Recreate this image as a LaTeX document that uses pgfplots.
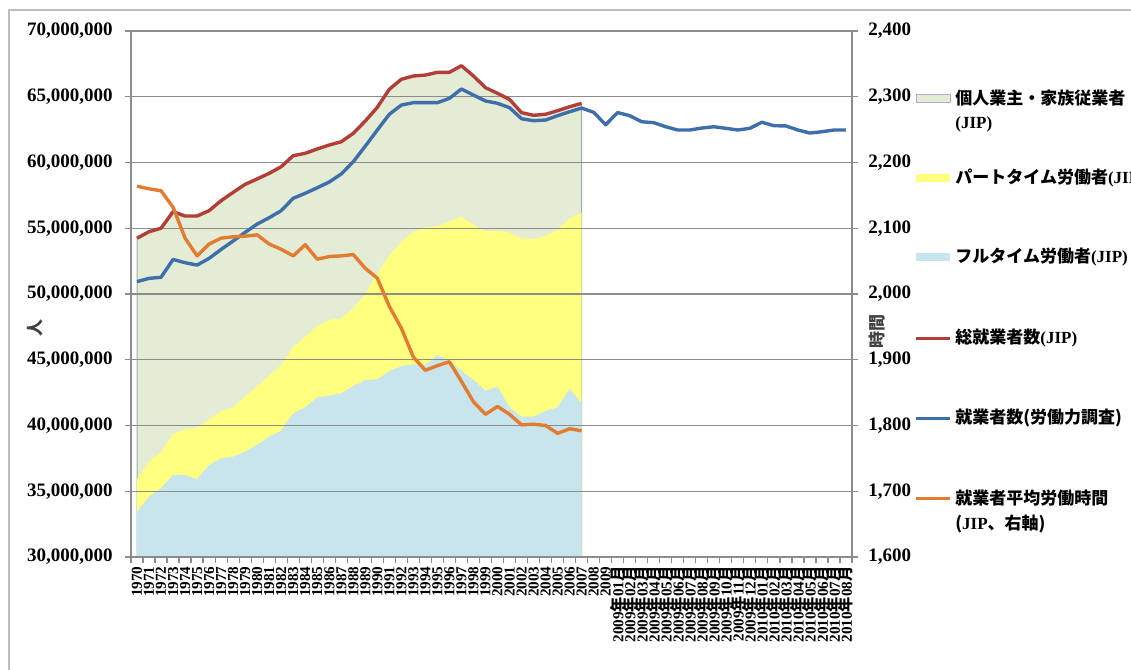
\documentclass[border=0pt]{standalone}
\usepackage{pgfplots}
\pgfplotsset{compat=1.18}
\usepackage{fontspec}
\setmainfont{Liberation Serif}
\newfontfamily\jp{Noto Sans CJK JP}

\definecolor{areagreen}{RGB}{228,236,214}
\definecolor{areayellow}{RGB}{255,255,128}
\definecolor{areablue}{RGB}{200,228,236}
\definecolor{greenedge}{RGB}{150,175,165}
\definecolor{redline}{RGB}{179,62,56}
\definecolor{blueline}{RGB}{63,111,170}
\definecolor{orangeline}{RGB}{226,124,48}
\definecolor{gridgray}{RGB}{140,140,140}
\definecolor{framegray}{RGB}{190,190,190}

\newcommand\ym[2]{#1{\jp 年}#2{\jp 月}}
\newcommand\jip[1]{{\rmfamily\bfseries(#1)}}

\pgfplotsset{
  base/.style={
    scale only axis, width=360.5pt, height=263pt,
    at={(65.5pt,-278.5pt)}, anchor=south west,
    xmin=-0.5, xmax=59.5,
  },
  ticknum/.style={
    /pgf/number format/fixed, /pgf/number format/precision=0,
    /pgf/number format/1000 sep={,}, /pgf/number format/assume math mode=true,
  },
}

\begin{document}
\begin{tikzpicture}
\useasboundingbox (0,0) rectangle (565.5pt,-335pt);
\draw[framegray, line width=0.9pt] (4.5pt,-335pt) -- (4.5pt,-5pt) -- (566pt,-5pt);

% areas, grid, x axis and left axis
\begin{axis}[base,
  ymin=30000000, ymax=70000000,
  ytick={30000000,35000000,40000000,45000000,50000000,55000000,60000000,65000000,70000000},
  scaled y ticks=false,
  ticknum,
  yticklabel style={font=\fontsize{9.5}{10}\selectfont\bfseries, inner sep=0pt},
  yticklabel shift=6pt,
  axis x line*=bottom, axis y line*=left,
  axis line style={draw=gridgray, line width=0.8pt, -},
  ymajorgrids, major grid style={draw=gridgray, line width=0.6pt},
  tick align=outside,
  major tick length=3pt, minor tick length=3pt,
  tick style={draw=gridgray, line width=0.6pt},
  xtick={0,...,59}, major x tick style={draw=none},
  minor xtick={-0.5,0.5,...,59.5},
  xticklabels={1970,1971,1972,1973,1974,1975,1976,1977,1978,1979,
    1980,1981,1982,1983,1984,1985,1986,1987,1988,1989,
    1990,1991,1992,1993,1994,1995,1996,1997,1998,1999,
    2000,2001,2002,2003,2004,2005,2006,2007,2008,2009,
    {\ym{2009}{01}},{\ym{2009}{02}},{\ym{2009}{03}},{\ym{2009}{04}},
    {\ym{2009}{05}},{\ym{2009}{06}},{\ym{2009}{07}},{\ym{2009}{08}},
    {\ym{2009}{09}},{\ym{2009}{10}},{\ym{2009}{11}},{\ym{2009}{12}},
    {\ym{2010}{01}},{\ym{2010}{02}},{\ym{2010}{03}},{\ym{2010}{04}},
    {\ym{2010}{05}},{\ym{2010}{06}},{\ym{2010}{07}},{\ym{2010}{08}}},
  xticklabel style={rotate=90, anchor=east, inner sep=0pt,
    font=\fontsize{7.6}{8}\selectfont\bfseries},
  xticklabel shift=1.5pt,
  axis on top,
]
% self-employed + family workers (top of stack = total JIP)
\addplot[fill=areagreen, draw=greenedge, line width=0.5pt] coordinates {
(0,54240000)(1,54740000)(2,55000000)(3,56260000)(4,55930000)(5,55930000)(6,56340000)(7,57100000)(8,57730000)(9,58340000)
(10,58750000)(11,59180000)(12,59680000)(13,60520000)(14,60700000)(15,61030000)(16,61330000)(17,61580000)(18,62220000)(19,63160000)
(20,64200000)(21,65570000)(22,66330000)(23,66580000)(24,66650000)(25,66860000)(26,66860000)(27,67360000)(28,66580000)(29,65690000)
(30,65260000)(31,64800000)(32,63790000)(33,63590000)(34,63670000)(35,63940000)(36,64240000)(37,64500000)
} \closedcycle;
% part-time (top of stack)
\addplot[fill=areayellow, draw=none] coordinates {
(0,35930000)(1,37250000)(2,38010000)(3,39350000)(4,39710000)(5,39830000)(6,40470000)(7,41100000)(8,41380000)(9,42190000)
(10,43000000)(11,43790000)(12,44600000)(13,45990000)(14,46750000)(15,47570000)(16,48020000)(17,48150000)(18,48910000)(19,49980000)
(20,51570000)(21,52970000)(22,53980000)(23,54740000)(24,55070000)(25,55170000)(26,55500000)(27,55880000)(28,55250000)(29,54790000)
(30,54810000)(31,54690000)(32,54240000)(33,54180000)(34,54410000)(35,54870000)(36,55760000)(37,56180000)
} \closedcycle;
% full-time
\addplot[fill=areablue, draw=none] coordinates {
(0,33440000)(1,34590000)(2,35220000)(3,36240000)(4,36240000)(5,35910000)(6,37000000)(7,37500000)(8,37630000)(9,38010000)
(10,38520000)(11,39150000)(12,39600000)(13,40930000)(14,41380000)(15,42140000)(16,42270000)(17,42450000)(18,43000000)(19,43460000)
(20,43510000)(21,44140000)(22,44520000)(23,44650000)(24,44600000)(25,45360000)(26,44900000)(27,44170000)(28,43460000)(29,42650000)
(30,42950000)(31,41380000)(32,40670000)(33,40670000)(34,41100000)(35,41380000)(36,42780000)(37,41690000)
} \closedcycle;
\end{axis}

% lines on the left scale
\begin{axis}[base, hide axis, ymin=30000000, ymax=70000000]
\addplot[redline, line width=1.7pt, line join=round] coordinates {
(0,54240000)(1,54740000)(2,55000000)(3,56260000)(4,55930000)(5,55930000)(6,56340000)(7,57100000)(8,57730000)(9,58340000)
(10,58750000)(11,59180000)(12,59680000)(13,60520000)(14,60700000)(15,61030000)(16,61330000)(17,61580000)(18,62220000)(19,63160000)
(20,64200000)(21,65570000)(22,66330000)(23,66580000)(24,66650000)(25,66860000)(26,66860000)(27,67360000)(28,66580000)(29,65690000)
(30,65260000)(31,64800000)(32,63790000)(33,63590000)(34,63670000)(35,63940000)(36,64240000)(37,64500000)
};
\addplot[blueline, line width=1.7pt, line join=round] coordinates {
(0,50940000)(1,51190000)(2,51270000)(3,52630000)(4,52380000)(5,52200000)(6,52710000)(7,53390000)(8,54030000)(9,54690000)
(10,55320000)(11,55800000)(12,56340000)(13,57280000)(14,57660000)(15,58080000)(16,58520000)(17,59130000)(18,60060000)(19,61250000)
(20,62470000)(21,63670000)(22,64370000)(23,64550000)(24,64550000)(25,64550000)(26,64880000)(27,65590000)(28,65130000)(29,64680000)
(30,64500000)(31,64170000)(32,63330000)(33,63180000)(34,63230000)(35,63560000)(36,63860000)(37,64140000)(38,63820000)(39,62870000)
(40,63800000)(41,63560000)(42,63100000)(43,63030000)(44,62720000)(45,62470000)(46,62470000)(47,62620000)(48,62720000)(49,62600000)
(50,62470000)(51,62600000)(52,63060000)(53,62800000)(54,62780000)(55,62470000)(56,62240000)(57,62340000)(58,62470000)(59,62470000)
};
\end{axis}

% average hours, right scale
\begin{axis}[base,
  ymin=1600, ymax=2400,
  axis y line*=right, axis x line=none,
  ytick={1600,1700,1800,1900,2000,2100,2200,2300,2400},
  ticknum,
  yticklabel style={font=\fontsize{9.5}{10}\selectfont\bfseries, inner sep=0pt},
  yticklabel shift=5pt,
  axis line style={draw=gridgray, line width=0.8pt, -},
  tick align=outside, major tick length=3pt,
  tick style={draw=gridgray, line width=0.6pt},
]
\addplot[orangeline, line width=1.7pt, line join=round] coordinates {
(0,2164)(1,2160)(2,2157)(3,2132)(4,2085)(5,2058)(6,2076)(7,2085)(8,2087)(9,2088)
(10,2090)(11,2076)(12,2068)(13,2058)(14,2075)(15,2053)(16,2057)(17,2058)(18,2060)(19,2039)
(20,2024)(21,1981)(22,1948)(23,1904)(24,1884)(25,1891)(26,1897)(27,1867)(28,1836)(29,1817)
(30,1829)(31,1817)(32,1801)(33,1802)(34,1800)(35,1788)(36,1795)(37,1792)
};
\end{axis}

% axis titles
\node[rotate=90, text=black!75, font=\jp\bfseries\fontsize{8.5}{9}\selectfont] at (17.5pt,-164pt) {人};
\node[rotate=90, text=black!75, font=\jp\bfseries\fontsize{8.5}{9}\selectfont] at (438.5pt,-165.5pt) {時間};

% legend
\begin{scope}[font=\jp\bfseries\fontsize{8.5}{9}\selectfont, every node/.style={anchor=west, inner sep=0pt}]
\filldraw[fill=areagreen, draw=greenedge!70!blue!60, line width=0.5pt] (458pt,-47pt) rectangle (475pt,-51pt);
\node at (477.5pt,-49pt) {個人業主・家族従業者};
\node at (477.5pt,-62pt) {\jip{JIP}};
\fill[areayellow] (458pt,-87pt) rectangle (475pt,-91pt);
\node at (477.5pt,-89pt) {パートタイム労働者\jip{JIP}};
\fill[areablue] (458pt,-126.5pt) rectangle (475pt,-130.5pt);
\node at (477.5pt,-128.5pt) {フルタイム労働者\jip{JIP}};
\draw[redline, line width=1.5pt] (458pt,-169pt) -- (475pt,-169pt);
\node at (477.5pt,-169pt) {総就業者数\jip{JIP}};
\draw[blueline, line width=1.5pt] (458pt,-209pt) -- (475pt,-209pt);
\node at (477.5pt,-209pt) {就業者数(労働力調査)};
\draw[orangeline, line width=1.5pt] (458pt,-249pt) -- (475pt,-249pt);
\node at (477.5pt,-249pt) {就業者平均労働時間};
\node at (477.5pt,-262pt) {({\rmfamily\bfseries JIP}、右軸)};
\end{scope}
\end{tikzpicture}
\end{document}
